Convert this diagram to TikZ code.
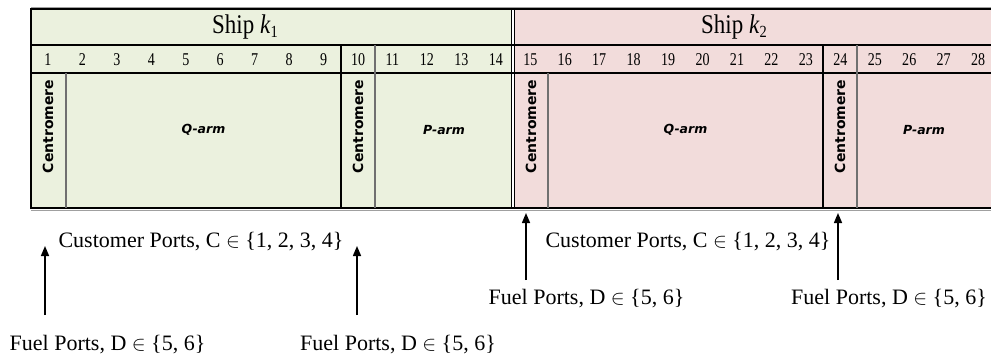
\documentclass[tikz,border=0pt]{standalone}
\usepackage{fontspec}
\setmainfont{Liberation Serif}
\newfontfamily\cfont{DejaVu Sans}
\usetikzlibrary{arrows.meta}
\definecolor{shipgreen}{HTML}{EBF1DE}
\definecolor{shippink}{HTML}{F2DCDB}
\definecolor{divgray}{HTML}{707070}
\definecolor{shadowgray}{HTML}{A0A0A0}
\begin{document}
\begin{tikzpicture}[x=1pt,y=-1pt,
  blkline/.style={line width=2pt,black},
  dblline/.style={line width=1.3pt,black},
  grayline/.style={line width=1.5pt,divgray},
  numlbl/.style={font=\fontsize{18}{18}\selectfont,inner sep=0pt},
  shiplbl/.style={font=\fontsize{27}{27}\selectfont,inner sep=0pt},
  centlbl/.style={font=\cfont\bfseries\fontsize{14}{14}\selectfont,rotate=90,inner sep=0pt},
  armlbl/.style={font=\cfont\bfseries\itshape\fontsize{12.5}{12.5}\selectfont,inner sep=0pt},
  portlbl/.style={font=\fontsize{22}{22}\selectfont,inner sep=0pt},
  portarrow/.style={line width=1.5pt,-{Triangle[length=10pt,width=8pt]}}]
\useasboundingbox (0,0) rectangle (991,360);
% backgrounds
\fill[shipgreen] (31,9) rectangle (512,208);
\fill[shippink] (514,9) rectangle (991,208);
% shadow lines
\draw[shadowgray,line width=1pt] (31,7) -- (991,7);
\draw[shadowgray,line width=1.5pt] (31,210.5) -- (991,210.5);
% horizontal lines
\draw[blkline] (30,9) -- (991,9);
\draw[blkline] (30,45) -- (991,45);
\draw[line width=1.6pt] (30,73) -- (991,73);
\draw[blkline] (30,208) -- (991,208);
% vertical lines
\draw[blkline] (31,8) -- (31,209);
\draw[blkline] (341,45) -- (341,208);
\draw[blkline] (823,45) -- (823,208);
\draw[dblline] (511.5,9) -- (511.5,208);
\draw[dblline] (514.5,9) -- (514.5,208);
\draw[grayline] (66,73) -- (66,208);
\draw[grayline] (375,45) -- (375,208);
\draw[grayline] (548,73) -- (548,208);
\draw[grayline] (857,45) -- (857,208);
% headers
\node[shiplbl] (ship1) at (245,27) {\scalebox{0.85}[1]{Ship \textit{k}\raisebox{-0.35ex}{\fontsize{17}{17}\selectfont 1}}};
\node[shiplbl] (ship2) at (734,27) {\scalebox{0.85}[1]{Ship \textit{k}\raisebox{-0.35ex}{\fontsize{17}{17}\selectfont 2}}};
% numbers
\foreach \i in {1,...,28} {
  \node[numlbl] (n\i) at ({48+(\i-1)*34.45},59.5) {\scalebox{0.78}[1]{\i}};
}
% centromeres and arms
\node[centlbl] (c1) at (48,126.5) {Centromere};
\node[centlbl] (c2) at (358,126.5) {Centromere};
\node[centlbl] (c3) at (531,126.5) {Centromere};
\node[centlbl] (c4) at (840,126.5) {Centromere};
\node[armlbl] (q1) at (203.5,130) {Q-arm};
\node[armlbl] (p1) at (444,130) {P-arm};
\node[armlbl] (q2) at (685.5,130) {Q-arm};
\node[armlbl] (p2) at (924,130) {P-arm};
% port labels
\node[portlbl] (cust1) at (201,242) {Customer Ports, C $\in$ \{1, 2, 3, 4\}};
\node[portlbl] (cust2) at (688,242) {Customer Ports, C $\in$ \{1, 2, 3, 4\}};
\node[portlbl] (fuel1) at (107.5,345) {Fuel Ports, D $\in$ \{5, 6\}};
\node[portlbl] (fuel2) at (398,345) {Fuel Ports, D $\in$ \{5, 6\}};
\node[portlbl] (fuel3) at (586.5,299) {Fuel Ports, D $\in$ \{5, 6\}};
\node[portlbl] (fuel4) at (889,299) {Fuel Ports, D $\in$ \{5, 6\}};
% arrows
\coordinate (a1s) at (45,315);  \coordinate (a1e) at (45,246);
\coordinate (a2s) at (357,315); \coordinate (a2e) at (357,246);
\coordinate (a3s) at (526,280); \coordinate (a3e) at (526,213);
\coordinate (a4s) at (838,280); \coordinate (a4e) at (838,213);
\draw[portarrow] (a1s) -- (a1e);
\draw[portarrow] (a2s) -- (a2e);
\draw[portarrow] (a3s) -- (a3e);
\draw[portarrow] (a4s) -- (a4e);
\end{tikzpicture}
\end{document}
